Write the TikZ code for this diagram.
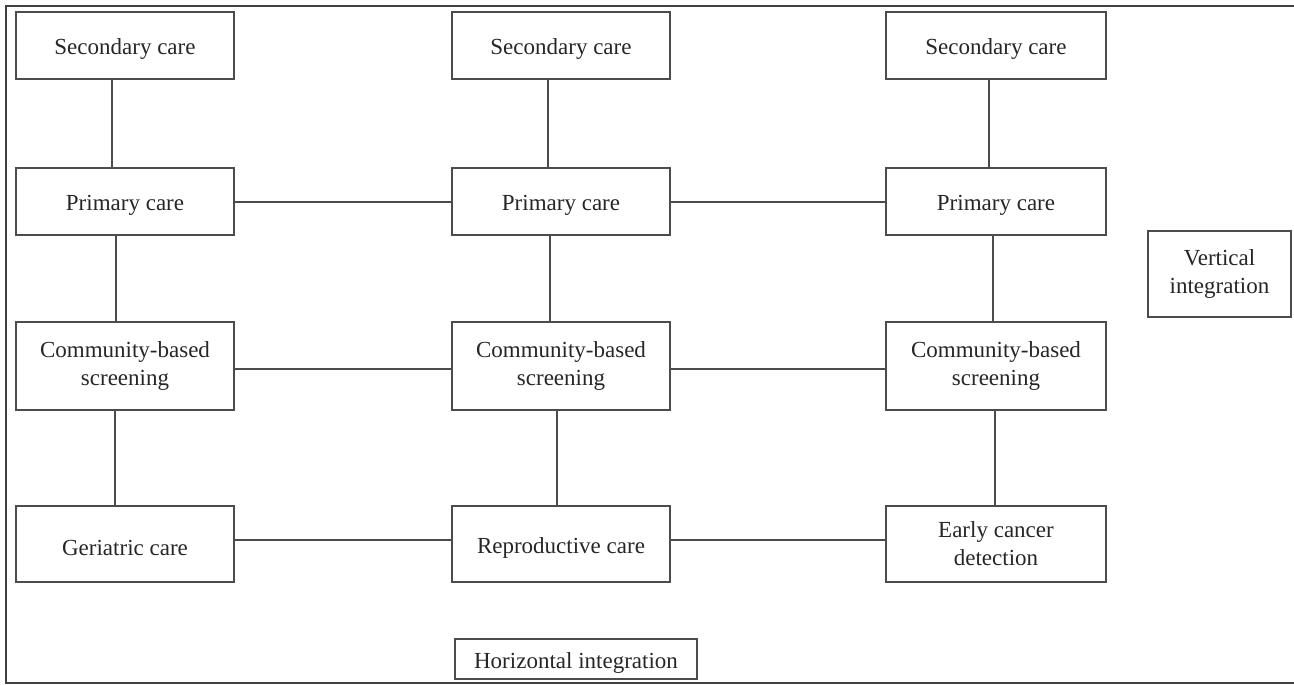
\documentclass[tikz,border=0pt]{standalone}
\usepackage{fontspec}
\setmainfont{Liberation Serif}
\begin{document}
\begin{tikzpicture}[x=1pt,y=-1pt,
  box/.style={draw=black!70,line width=1.6pt,rectangle,minimum width=218pt,minimum height=67pt,
    inner sep=0pt,align=center,text=black!85,font=\fontsize{23}{28}\selectfont,
    execute at begin node={\rule{0pt}{23pt}}},
  tall/.style={minimum height=88pt},
  low/.style={minimum height=76pt},
  link/.style={draw=black!70,line width=1.6pt}]
\useasboundingbox (0,0) rectangle (1294,685);
\draw[black!75,line width=1.4pt] (1294,6) -- (6,6) -- (6,683) -- (1294,683);
% column 1
\node[box] (s1) at (125,45.5) {Secondary care};
\node[box] (p1) at (125,201.5) {Primary care};
\node[box,tall] (c1) at (125,366) {Community-based\\screening};
\node[box,low] (g1) at (125,544) {Geriatric care};
% column 2
\node[box] (s2) at (561,45.5) {Secondary care};
\node[box] (p2) at (561,201.5) {Primary care};
\node[box,tall] (c2) at (561,366) {Community-based\\screening};
\node[box,low] (g2) at (561,544) {Reproductive care};
% column 3
\node[box,minimum width=220pt] (s3) at (996,45.5) {Secondary care};
\node[box,minimum width=220pt] (p3) at (996,201.5) {Primary care};
\node[box,tall,minimum width=220pt] (c3) at (996,366) {Community-based\\screening};
\node[box,low,minimum width=220pt] (g3) at (996,544) {Early cancer\\detection};
% labels
\node[box,minimum width=143pt,minimum height=86pt] (vi) at (1219.5,274) {Vertical\\integration};
\node[box,minimum width=242pt,minimum height=40pt] (hi) at (576,659) {Horizontal integration};
% vertical connectors
\draw[link] ([xshift=-13pt]s1.south) -- ([xshift=-13pt]p1.north);
\draw[link] ([xshift=-9pt]p1.south) -- ([xshift=-9pt]c1.north);
\draw[link] ([xshift=-10pt]c1.south) -- ([xshift=-10pt]g1.north);
\draw[link] ([xshift=-13pt]s2.south) -- ([xshift=-13pt]p2.north);
\draw[link] ([xshift=-11pt]p2.south) -- ([xshift=-11pt]c2.north);
\draw[link] ([xshift=-4pt]c2.south) -- ([xshift=-4pt]g2.north);
\draw[link] ([xshift=-7pt]s3.south) -- ([xshift=-7pt]p3.north);
\draw[link] ([xshift=-3pt]p3.south) -- ([xshift=-3pt]c3.north);
\draw[link] ([xshift=-1pt]c3.south) -- ([xshift=-1pt]g3.north);
% horizontal connectors
\draw[link] ([yshift=-0.5pt]p1.east) -- ([yshift=-0.5pt]p2.west);
\draw[link] ([yshift=-0.5pt]p2.east) -- ([yshift=-0.5pt]p3.west);
\draw[link] ([yshift=-3pt]c1.east) -- ([yshift=-3pt]c2.west);
\draw[link] ([yshift=-3pt]c2.east) -- ([yshift=-3pt]c3.west);
\draw[link] ([yshift=4pt]g1.east) -- ([yshift=4pt]g2.west);
\draw[link] ([yshift=4pt]g2.east) -- ([yshift=4pt]g3.west);
\end{tikzpicture}
\end{document}
